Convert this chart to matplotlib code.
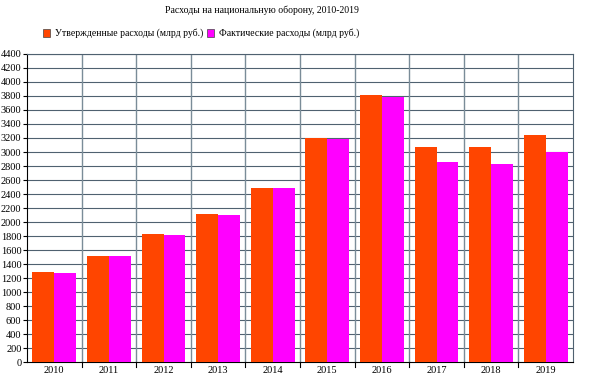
import matplotlib
matplotlib.use("Agg")
import matplotlib.pyplot as plt
import numpy as np
from matplotlib.patches import Rectangle

years = ["2010", "2011", "2012", "2013", "2014", "2015", "2016", "2017", "2018", "2019"]
approved = [1285, 1520, 1830, 2110, 2490, 3195, 3810, 3065, 3075, 3240]
actual = [1280, 1516, 1812, 2104, 2480, 3185, 3780, 2860, 2830, 3005]
yticks = list(range(0, 4401, 200))

ORANGE = "#ff4500"
MAGENTA = "#ff00ff"
GRID = "#4f6170"

plt.rcParams["font.family"] = ["Liberation Serif", "DejaVu Serif"]

fig = plt.figure(figsize=(6, 3.86), dpi=100)
ax = fig.add_axes([0.045, 0.0614, 0.91, 0.799])

x = np.arange(len(years))
w = 0.4
ax.bar(x - w / 2, approved, width=w, color=ORANGE, zorder=3)
ax.bar(x + w / 2, actual, width=w, color=MAGENTA, zorder=3)

ax.set_xlim(-0.5, len(years) - 0.5)
ax.set_ylim(0, 4400)
ax.set_yticks(yticks)
ax.set_yticklabels([str(v) for v in yticks], fontsize=7.5)
ax.set_xticks(x)
ax.set_xticklabels(years, fontsize=7.5)
ax.tick_params(axis="x", length=0, pad=3)
ax.tick_params(axis="y", length=3, width=0.8, pad=1)

for v in yticks[1:]:
    ax.axhline(v, color=GRID, lw=0.8, zorder=1)
for b in np.arange(0.5, len(years) - 0.5, 1):
    ax.axvline(b, color="#7a8c98", lw=1.0, zorder=1)
    ax.plot([b, b], [0, -60], color="black", lw=0.8, clip_on=False)

for side in ["top", "right"]:
    ax.spines[side].set_color(GRID)
    ax.spines[side].set_linewidth(0.8)
ax.spines["left"].set_color("black")
ax.spines["bottom"].set_color("black")

fig.text(0.437, 0.973, "Расходы на национальную оборону, 2010-2019",
         ha="center", va="center", fontsize=7)

for sx, label, col in [(0.071, "Утвержденные расходы (млрд руб.)", ORANGE),
                       (0.345, "Фактические расходы (млрд руб.)", MAGENTA)]:
    fig.patches.append(Rectangle((sx, 0.905), 0.012, 0.019, transform=fig.transFigure,
                                 facecolor=col, edgecolor="#444444", lw=0.5))
    fig.text(sx + 0.02, 0.915, label, ha="left", va="center", fontsize=7)

fig.savefig("out.png", dpi=100)
